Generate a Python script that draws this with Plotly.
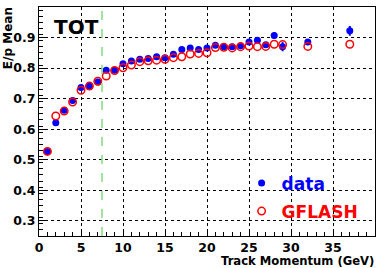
import plotly.graph_objects as go

momentum = [1, 2, 3, 4, 5, 6, 7, 8, 9, 10, 11, 12, 13, 14, 15, 16, 17, 18, 19, 20,
            21, 22, 23, 24, 25, 26, 27, 28, 29, 32, 37]
data_mean = [0.527, 0.621, 0.662, 0.694, 0.736, 0.741, 0.754, 0.793, 0.793, 0.814,
             0.823, 0.829, 0.831, 0.837, 0.834, 0.845, 0.861, 0.866, 0.861, 0.866,
             0.875, 0.870, 0.870, 0.873, 0.885, 0.891, 0.876, 0.907, 0.870, 0.885, 0.922]
data_err = [0.003, 0.003, 0.003, 0.003, 0.003, 0.003, 0.003, 0.003, 0.003, 0.003,
            0.003, 0.003, 0.003, 0.003, 0.003, 0.003, 0.004, 0.004, 0.004, 0.004,
            0.005, 0.005, 0.005, 0.005, 0.006, 0.006, 0.007, 0.011, 0.015, 0.009, 0.016]
gflash_mean = [0.527, 0.643, 0.659, 0.689, 0.727, 0.741, 0.757, 0.774, 0.792, 0.801,
               0.810, 0.821, 0.824, 0.826, 0.829, 0.834, 0.837, 0.846, 0.848, 0.850,
               0.867, 0.868, 0.866, 0.870, 0.872, 0.870, 0.871, 0.878, 0.877, 0.871, 0.878]
cut_momentum = 7.5
x_ticks = [0, 5, 10, 15, 20, 25, 30, 35, 40]
y_ticks = [0.3, 0.4, 0.5, 0.6, 0.7, 0.8, 0.9, 1.0]

FONT = "DejaVu Sans"

fig = go.Figure()
fig.add_trace(go.Scatter(
    x=momentum, y=data_mean, mode="markers", name="data",
    marker=dict(color="#0000ff", size=7, symbol="circle"),
    error_y=dict(type="data", array=data_err, color="#0000ff", thickness=2, width=0),
    legendgroup="a",
))
fig.add_trace(go.Scatter(
    x=momentum, y=gflash_mean, mode="markers", name="GFLASH",
    marker=dict(color="rgba(0,0,0,0)", size=7.5, symbol="circle",
                line=dict(color="#ff0000", width=1.5)),
    legendgroup="b",
))

fig.add_shape(type="line", xref="x", yref="paper", x0=cut_momentum, x1=cut_momentum,
              y0=0, y1=1, line=dict(color="#80dd80", width=1.5, dash="dash"))

fig.add_annotation(text="TOT", xref="paper", yref="paper", x=0.038, y=0.912,
                   xanchor="left", yanchor="middle", showarrow=False,
                   font=dict(family=FONT, size=20, color="black", weight="bold"))
fig.add_annotation(text="E/p Mean", xref="paper", yref="paper", x=-0.094, y=1.01,
                   xanchor="center", yanchor="top", textangle=-90, showarrow=False,
                   font=dict(family=FONT, size=12, color="black", weight="bold"))
fig.add_annotation(text="Track Momentum (GeV)", xref="paper", yref="paper", x=1.003, y=-0.07,
                   xanchor="right", yanchor="top", showarrow=False,
                   font=dict(family=FONT, size=11.6, color="black", weight="bold"))

axis_common = dict(
    showline=True, linecolor="black", linewidth=1, mirror=True,
    ticks="inside", ticklen=7, tickcolor="black", tickwidth=1,
    showgrid=True, gridcolor="black", griddash="dot", gridwidth=1,
    zeroline=False, automargin=False,
    tickfont=dict(family=FONT, size=12.5, color="black", weight="bold"),
)

fig.update_xaxes(range=[0, 40], tickvals=x_ticks, ticktext=[str(v) for v in x_ticks],
                 minor=dict(dtick=1, ticks="inside", ticklen=4, tickcolor="black", showgrid=False),
                 **axis_common)
fig.update_yaxes(range=[0.25, 1.0], tickvals=y_ticks,
                 ticktext=["0.3", "0.4", "0.5", "0.6", "0.7", "0.8", "0.9", "1"],
                 minor=dict(dtick=0.02, tick0=0.25, ticks="inside", ticklen=4, tickcolor="black", showgrid=False),
                 **axis_common)

fig.update_layout(
    width=382, height=268,
    margin=dict(l=39, r=7, t=7, b=32),
    paper_bgcolor="white", plot_bgcolor="white",
    showlegend=True,
    legend=dict(x=0.603, y=0.308, xanchor="left", yanchor="top",
                bgcolor="rgba(0,0,0,0)", borderwidth=0,
                traceorder="grouped", tracegroupgap=3,
                font=dict(family=FONT, size=17, weight="bold"),
                itemwidth=30),
)
fig.data[0].name = "<span style='color:#0000ff'>data</span>"
fig.data[1].name = "<span style='color:#ff0000'>GFLASH</span>"

fig.write_html("out.html", config={"displayModeBar": False},
               post_script="document.body.style.margin='0px';document.body.style.padding='0px';")
